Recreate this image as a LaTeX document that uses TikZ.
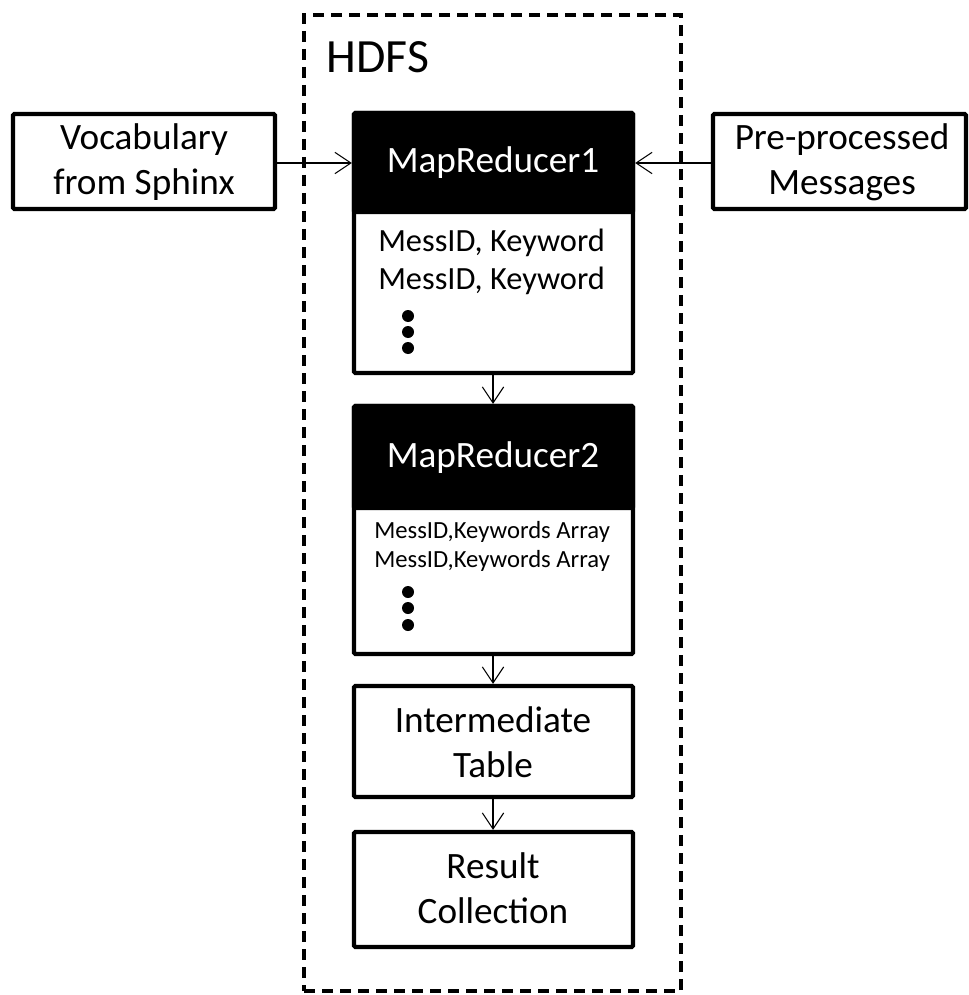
\documentclass[tikz,border=0pt]{standalone}
\usepackage{fontspec}
\setmainfont{Carlito}
\usetikzlibrary{arrows.meta,fit}

\tikzset{
  box/.style={draw=black, line width=3.2pt, rounded corners=1pt, inner sep=0pt, fill=white},
  hdr/.style={fill=black, draw=black, line width=3.2pt, rounded corners=1pt, inner sep=0pt},
  big/.style={font=\fontsize{27.9}{33.75}\selectfont, align=center, inner sep=0pt},
  mid/.style={font=\fontsize{24.3}{28.5}\selectfont, inner sep=0pt, anchor=west},
  tiny/.style={font=\fontsize{18.5}{21}\selectfont, inner sep=0pt, anchor=west},
  flow/.style={line width=0.8pt, -{Straight Barb[length=12pt, width=16pt, line width=0.8pt]}},
  dotmark/.style={circle, fill=black, inner sep=0pt, minimum size=9pt},
  hdfsframe/.style={draw=black, line width=2.6pt, dash pattern=on 8.5pt off 5pt, inner sep=0pt}
}

\begin{document}
\begin{tikzpicture}[x=0.75pt, y=-0.75pt]
  \useasboundingbox (0,0) rectangle (968,995);

  % HDFS container
  \node[hdfsframe, fit={(304,15)(681,991)}] (hdfs) {};
  \node[font=\fontsize{35.8}{40}\selectfont, inner sep=0pt] (hdfslabel) at (378,57) {HDFS};

  % MapReducer1: outlined box with a black header band
  \node[box, fit={(354,113)(633,373)}] (mr1) {};
  \node[hdr, fit={(354,113)(633,212)}] (mr1h) {};
  \node[big, text=white] (mr1t) at (493,163) {MapReducer1};
  \node[mid] (mr1a) at (378,243) {MessID, Keyword};
  \node[mid] (mr1b) at (378,281) {MessID, Keyword};
  \node[dotmark] (d11) at (408,316) {};
  \node[dotmark] (d12) at (408,332) {};
  \node[dotmark] (d13) at (408,348) {};

  % MapReducer2
  \node[box, fit={(354,406)(633,654)}] (mr2) {};
  \node[hdr, fit={(354,406)(633,508)}] (mr2h) {};
  \node[big, text=white] (mr2t) at (493,458) {MapReducer2};
  \node[tiny] (mr2a) at (374,532) {MessID,Keywords Array};
  \node[tiny] (mr2b) at (374,561) {MessID,Keywords Array};
  \node[dotmark] (d21) at (408,592) {};
  \node[dotmark] (d22) at (408,608) {};
  \node[dotmark] (d23) at (408,625) {};

  % Intermediate table and results
  \node[box, fit={(354,686)(633,797)}] (itab) {};
  \node[big] (itabt) at (493,742) {Intermediate\\Table};
  \node[box, fit={(354,832)(633,947)}] (res) {};
  \node[big] (rest) at (493,888) {Result\\Collection};

  % Inputs
  \node[box, fit={(13,114)(275,209)}] (voc) {};
  \node[big] (voct) at (144,162) {Vocabulary\\from Sphinx};
  \node[box, fit={(713,114)(966,209)}] (pre) {};
  \node[big] (pret) at (842,162) {Pre-processed\\Messages};

  % Connectors
  \draw[flow] (voc.east |- 0,163) -- (mr1.west |- 0,163);
  \draw[flow] (pre.west |- 0,163) -- (mr1.east |- 0,163);
  \draw[flow] (mr1.south -| 493,0) -- (mr2.north -| 493,0);
  \draw[flow] (mr2.south -| 493,0) -- (itab.north -| 493,0);
  \draw[flow] (itab.south -| 493,0) -- (res.north -| 493,0);
\end{tikzpicture}
\end{document}
